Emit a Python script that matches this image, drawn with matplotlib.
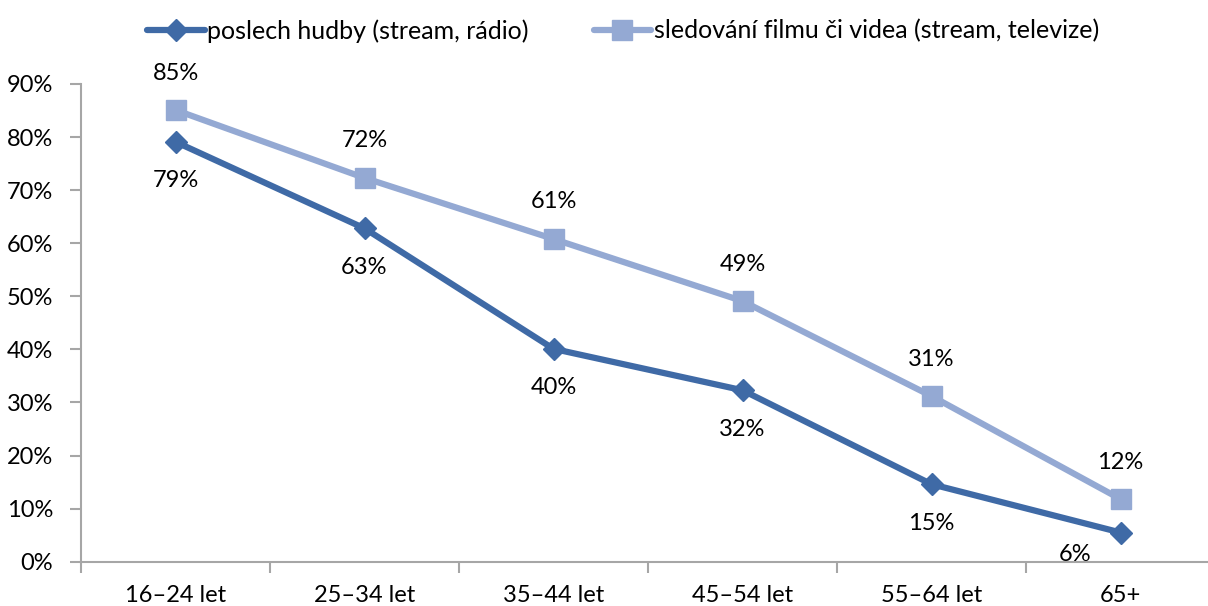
import matplotlib
matplotlib.use("Agg")
import matplotlib.pyplot as plt
from matplotlib.ticker import FixedLocator, FuncFormatter
from matplotlib.lines import Line2D

categories = ["16–24 let", "25–34 let", "35–44 let", "45–54 let", "55–64 let", "65+"]
music = [79.1, 62.8, 40.1, 32.3, 14.6, 5.5]
video = [85.1, 72.3, 60.8, 49.1, 31.2, 11.8]
music_name = "poslech hudby (stream, rádio)"
video_name = "sledování filmu či videa (stream, televize)"
yticks = [0, 10, 20, 30, 40, 50, 60, 70, 80, 90]

DARK = "#3F6AA6"
LIGHT = "#94A9D3"
AXC = "#A6A6A6"
FONT = "Lato"
FS = 17

plt.rcParams['font.family'] = [FONT, 'DejaVu Sans']

fig = plt.figure(figsize=(12.08, 6.06), dpi=100)
ax = fig.add_axes([81/1208, (606-561.7)/606, (1215-81)/1208, (561.7-84)/606])

x = list(range(len(categories)))
ax.plot(x, video, color=LIGHT, lw=4.5, marker="s", ms=14, mec=LIGHT, mfc=LIGHT, zorder=3, solid_capstyle="round")
ax.plot(x, music, color=DARK, lw=4.5, marker="D", ms=11, mec=DARK, mfc=DARK, zorder=4, solid_capstyle="round")

ax.set_xlim(-0.5, len(categories) - 0.5)
ax.set_ylim(0, 90)

for s in ["top", "right"]:
    ax.spines[s].set_visible(False)
for s in ["left", "bottom"]:
    ax.spines[s].set_color(AXC)
    ax.spines[s].set_linewidth(1.5)

ax.yaxis.set_major_locator(FixedLocator(yticks))
ax.yaxis.set_major_formatter(FuncFormatter(lambda v, p: f"{v:.0f}%"))
ax.tick_params(axis="y", direction="out", length=8, width=1.5, color=AXC, pad=12, labelsize=FS)

ax.set_xticks(x)
ax.set_xticklabels(categories)
ax.tick_params(axis="x", which="major", length=0, pad=17, labelsize=FS)
ax.set_xticks([i - 0.5 for i in range(len(categories) + 1)], minor=True)
ax.tick_params(axis="x", which="minor", direction="out", length=8, width=1.5, color=AXC)

# data labels
music_off = [(0, -39)] * (len(categories) - 1) + [(-45, -22)]
for xi, v, off in zip(x, music, music_off):
    ax.annotate(f"{v:.0f}%", (xi, v), xytext=off, textcoords="offset pixels",
                ha="center", va="center", fontsize=FS, color="black", zorder=5)
for xi, v in zip(x, video):
    ax.annotate(f"{v:.0f}%", (xi, v), xytext=(0, 37), textcoords="offset pixels",
                ha="center", va="center", fontsize=FS, color="black", zorder=5)

handles = [
    Line2D([], [], color=DARK, lw=4.5, marker="D", ms=11, solid_capstyle="round"),
    Line2D([], [], color=LIGHT, lw=4.5, marker="s", ms=14, solid_capstyle="round"),
]
fig.legend(handles, [music_name, video_name], loc="center", bbox_to_anchor=(623/1208, 1 - 31/606),
           ncol=2, frameon=False, fontsize=18, handlelength=2.3, handletextpad=0.1,
           columnspacing=2.6)

fig.savefig("out.png", dpi=100)
